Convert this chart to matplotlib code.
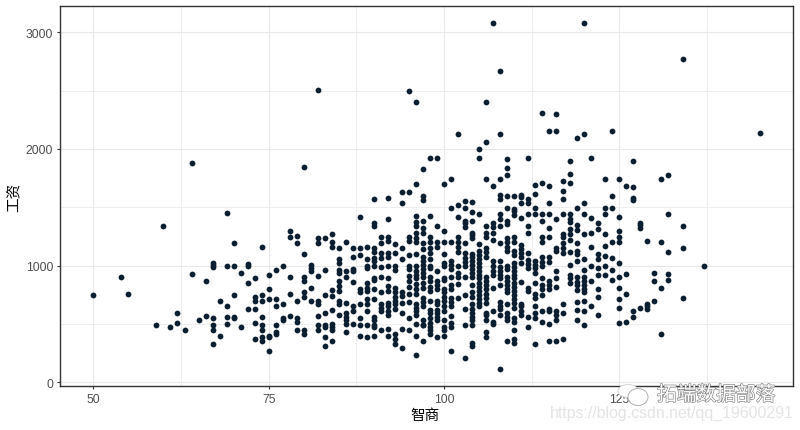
import matplotlib
matplotlib.use("Agg")
import matplotlib.pyplot as plt
import matplotlib.patheffects as pe
from matplotlib.patches import Ellipse
from matplotlib.ticker import MultipleLocator

# Wages, one small list per IQ value
w50 = [751]; w54 = [906]; w55 = [760]; w59 = [486]; w60 = [1343]; w61 = [469]
w62 = [597, 511]; w63 = [451]; w64 = [931, 1877]; w65 = [537]; w66 = [871, 571]
w67 = [1026, 1009, 991, 554, 494, 451, 323]; w68 = [700, 400]
w69 = [1454, 1000, 657, 563, 503]; w70 = [1197, 1000, 751, 563, 546]; w71 = [940, 477]
w72 = [1017, 1000, 854, 631]; w73 = [889, 734, 700, 631, 511, 374]
w74 = [1163, 751, 700, 563, 494, 443, 391, 357]; w75 = [923, 803, 717, 400, 383, 263]
w76 = [966, 709, 657, 486, 426, 409]; w77 = [1000, 674, 554, 537]
w78 = [1300, 1249, 906, 760, 571]; w79 = [1257, 1197, 700, 554, 520, 451]
w80 = [1849, 1103, 906, 871, 769, 734, 451, 417]; w81 = [1009, 983, 949, 811, 700]
w82 = [2503, 1240, 1197, 914, 700, 666, 571, 486, 443]
w83 = [1240, 966, 751, 597, 494, 477, 383, 306]
w84 = [1274, 1206, 1163, 794, 743, 623, 503, 477, 443, 349]
w85 = [1154, 1060, 1026, 966, 940, 871, 823, 786, 700, 674, 580]
w86 = [1206, 957, 906, 683, 597, 563, 529, 503, 426]
w87 = [1154, 1077, 974, 949, 863, 649, 606, 503]
w88 = [1420, 1154, 1094, 803, 769, 674, 554, 494, 400]
w89 = [1163, 1060, 1000, 983, 854, 811, 786, 709, 666, 614, 486, 383]
w90 = [1574, 1369, 1340, 1154, 1120, 1069, 1043, 1000, 897, 880, 803, 717, 563, 529, 494, 469, 400]
w91 = [1249, 1197, 1111, 1069, 991, 906, 769, 674, 640, 606, 451]
w92 = [1583, 1403, 1249, 1214, 1111, 1077, 1000, 889, 823, 786, 683, 649, 606, 580, 460, 400]
w93 = [1189, 1111, 1000, 966, 811, 769, 734, 700, 666, 631, 409, 366, 331]
w94 = [1634, 1540, 1154, 1060, 769, 740, 683, 589, 460, 297]
w95 = [2497, 1634, 1249, 1214, 1094, 1000, 974, 914, 871, 820, 760, 691, 554, 451]
w96 = [2406, 1703, 1429, 1377, 1343, 1283, 1240, 1206, 1103, 1000, 957, 923, 889, 846, 803, 760,
       674, 640, 606, 580, 503, 400, 237]
w97 = [1831, 1600, 1566, 1386, 1326, 1283, 1197, 1146, 1077, 1043, 1009, 974, 940, 906, 854, 811,
       726, 691, 657, 537, 494, 486, 357]
w98 = [1926, 1429, 1249, 1206, 1154, 1111, 1060, 1000, 983, 906, 871, 820, 786, 700, 623, 589,
       546, 511, 477, 443, 409]
w99 = [1926, 1343, 1206, 1163, 957, 871, 837, 803, 700, 666, 623, 589, 563, 529, 383]
w100 = [1703, 1300, 1206, 1103, 1026, 1000, 897, 880, 803, 769, 734, 700, 649, 606, 529, 477, 443, 400]
w101 = [1746, 1497, 1206, 1043, 1009, 974, 906, 837, 803, 726, 691, 649, 571, 511, 477, 271]
w102 = [2131, 1523, 1420, 1249, 1206, 1163, 1120, 1000, 940, 906, 846, 726]
w103 = [1557, 1497, 1386, 1369, 1334, 1197, 1111, 1069, 1034, 1000, 906, 746, 631, 494, 203]
w104 = [1549, 1463, 1386, 1283, 1266, 1240, 1103, 1077, 1043, 1009, 974, 940, 906, 837, 769, 734,
        666, 631, 597, 563, 529, 494, 340, 311]
w105 = [2003, 1926, 1446, 1189, 1129, 1094, 1060, 1026, 991, 957, 923, 889, 854, 820, 786, 751, 717, 683, 649]
w106 = [2406, 2063, 1746, 1343, 1283, 1249, 1154, 1120, 1077, 906, 871, 837, 803, 760, 726, 683,
        597, 580, 529, 426, 383]
w107 = [3077, 1686, 1369, 1334, 1283, 1223, 1043, 1000, 957, 923, 811, 606, 520, 503]
w108 = [2666, 2131, 1746, 1609, 1574, 1446, 1403, 1343, 1197, 1043, 991, 957, 923, 889, 829,
        691, 657, 631, 580, 117]
w109 = [1917, 1840, 1780, 1600, 1497, 1386, 1360, 1240, 1206, 1163, 1129, 1000, 974, 906, 871, 837,
        803, 769, 674, 597, 563, 537, 357]
w110 = [1600, 1483, 1471, 1437, 1249, 1206, 1129, 1094, 1026, 991, 957, 923, 889, 854, 820, 786,
        751, 717, 683, 640, 554, 520, 451, 366, 340]
w111 = [1609, 1591, 1540, 1411, 1180, 1146, 1111, 1077, 1026, 863, 674, 649, 606, 580]
w112 = [1926, 1574, 1540, 1446, 1343, 1283, 1111, 1051, 1017, 983, 811, 786, 563, 469]
w113 = [1694, 1617, 1497, 1446, 1043, 1009, 983, 940, 854, 760, 726, 657, 589, 546, 331]
w114 = [2311, 1711, 1446, 1386, 1249, 1206, 1077, 1034, 1000, 889, 837, 803, 751, 606, 520]
w115 = [2157, 1686, 1540, 1446, 1326, 1249, 1077, 1034, 871, 837, 803, 631, 606, 503, 357]
w116 = [2303, 2157, 1403, 1154, 1129, 957, 889, 820, 606, 580, 529, 357]
w117 = [1729, 1643, 1574, 1446, 1274, 1249, 1197, 1154, 1111, 674, 589, 374]
w118 = [1900, 1789, 1711, 1446, 1403, 1377, 1317, 1274, 1223, 1120, 1009, 923, 889, 854]
w119 = [2097, 1497, 1351, 1309, 1197, 1129, 1103, 1043, 906, 863, 829, 794, 691, 623, 529]
w120 = [3077, 2131, 1540, 1446, 1274, 1060, 966, 906, 871, 837, 803, 769, 700, 606, 486]
w121 = [1926, 1411, 1283, 1163, 1000, 871, 657]
w122 = [1369, 1317, 1103, 1060, 983, 923, 803, 734, 580]
w123 = [1746, 1497, 1446, 1274, 1171, 1086, 1000, 923]
w124 = [2157, 1600, 1497, 1206, 1069, 966, 880]
w125 = [1746, 1420, 1300, 1249, 1206, 1026, 906, 811, 717, 640, 511]
w126 = [1686, 931, 760, 520]
w127 = [1900, 1677, 1583, 1566, 606, 563]
w128 = [1369, 1346, 1323, 640]
w129 = [1214, 666, 649, 631]
w130 = [940, 871, 700]
w131 = [1746, 1206, 811, 417]
w132 = [1780, 1446, 1120, 931, 880]
w134 = [2769, 1343, 1154, 726]
w137 = [1000]
w145 = [2134]

iq_values = [50, 54, 55, 59, 60, 61, 62, 63, 64, 65, 66, 67, 68, 69, 70, 71, 72, 73, 74, 75, 76, 77, 78, 79,
             80, 81, 82, 83, 84, 85, 86, 87, 88, 89, 90, 91, 92, 93, 94, 95, 96, 97, 98, 99,
             100, 101, 102, 103, 104, 105, 106, 107, 108, 109, 110, 111, 112, 113, 114, 115, 116, 117, 118, 119,
             120, 121, 122, 123, 124, 125, 126, 127, 128, 129, 130, 131, 132, 134, 137, 145]
wage_lists = [w50, w54, w55, w59, w60, w61, w62, w63, w64, w65, w66, w67, w68, w69, w70, w71, w72, w73, w74, w75,
              w76, w77, w78, w79, w80, w81, w82, w83, w84, w85, w86, w87, w88, w89, w90, w91, w92, w93, w94, w95,
              w96, w97, w98, w99, w100, w101, w102, w103, w104, w105, w106, w107, w108, w109, w110, w111, w112,
              w113, w114, w115, w116, w117, w118, w119, w120, w121, w122, w123, w124, w125, w126, w127, w128,
              w129, w130, w131, w132, w134, w137, w145]

x_label = "智商"
y_label = "工资"
x_ticks = [50, 75, 100, 125]
y_ticks = [0, 1000, 2000, 3000]

cjk = ["Noto Sans CJK SC", "DejaVu Sans"]
latin = ["Liberation Sans", "DejaVu Sans"]
W, H = 800, 431

iq = [v for v, ws in zip(iq_values, wage_lists) for _ in ws]
wage = [w for ws in wage_lists for w in ws]

fig = plt.figure(figsize=(W / 100, H / 100), dpi=100, facecolor="white")
ax = fig.add_axes([60 / W, (H - 387) / H, 733 / W, 380 / H])
ax.scatter(iq, wage, s=17.5, color="#0b1f30", linewidths=0, zorder=3, clip_on=False)
ax.set_xlim(45.25, 149.75)
ax.set_ylim(-33, 3226)

ax.set_xticks(x_ticks)
ax.set_yticks(y_ticks)
ax.xaxis.set_minor_locator(MultipleLocator(12.5))
ax.yaxis.set_minor_locator(MultipleLocator(500))
ax.grid(True, which="major", color="#e8e8e8", linewidth=0.8, zorder=0)
ax.grid(True, which="minor", color="#ededed", linewidth=0.7, zorder=0)
ax.set_axisbelow(True)
ax.tick_params(which="minor", length=0)
ax.tick_params(which="major", length=2.4, width=0.8, color="#333333", labelcolor="#4d4d4d",
               labelsize=8.7, pad=2.5)
for lab in ax.get_xticklabels() + ax.get_yticklabels():
    lab.set_family(latin)
for s in ax.spines.values():
    s.set_color("#333333")
    s.set_linewidth(1.0)

fig.text(425.5 / W, (H - 416) / H, x_label, family=cjk, fontsize=10.5, color="black", ha="center", va="center")
fig.text(14 / W, (H - 197) / H, y_label, family=cjk, fontsize=10.5, color="black", ha="center", va="center", rotation=90)

# Watermark across the lower right corner
fig.text(657 / W, (H - 396) / H, "拓端数据部落", family=cjk, fontsize=14.2, color="white", ha="left", va="center",
         path_effects=[pe.withStroke(linewidth=1.0, foreground="#8a8a8a")], zorder=6)
fig.text(550 / W, (H - 413) / H, "https://blog.csdn.net/qq_19600291", family=latin, fontsize=11.4, color="#e4e4e4",
         ha="left", va="center", zorder=6)
for cx, cy, ew, eh, ec in [(628, 392, 20, 13, "#d8d8d8"), (638, 398, 20, 17, "#b0b0b0")]:
    fig.add_artist(Ellipse((cx / W, (H - cy) / H), ew / W, eh / H, transform=fig.transFigure,
                           facecolor="white", edgecolor=ec, linewidth=0.7, zorder=5))

fig.savefig("out.png", dpi=100, facecolor="white")
